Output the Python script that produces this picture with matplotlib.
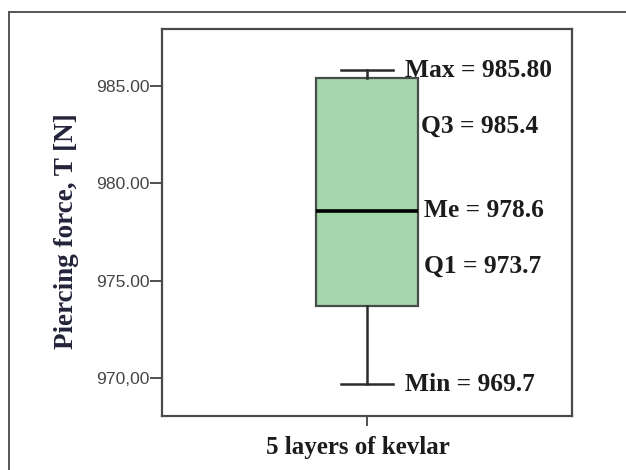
import matplotlib
matplotlib.use("Agg")
import matplotlib.pyplot as plt
from matplotlib.lines import Line2D

# Five-number summary for the kevlar sample (N)
group = "5 layers of kevlar"
stat_names = ["Max", "Q3", "Me", "Q1", "Min"]
stat_values = [985.80, 985.4, 978.6, 973.7, 969.7]
stat_text = ["985.80", "985.4", "978.6", "973.7", "969.7"]

yticks = [970, 975, 980, 985]
ytick_labels = ["970,00", "975.00", "980.00", "985.00"]

# where each annotation sits (data y, x offset in points from its mark)
label_y = [985.8, 982.95, 978.6, 975.75, 969.7]
label_dx = [9, 2, 4, 4, 9]

serif = ["Liberation Serif", "DejaVu Serif"]
sans = ["Liberation Sans", "DejaVu Sans"]

vals = dict(zip(stat_names, stat_values))
stats = [{
    "label": group,
    "whishi": vals["Max"],
    "q3": vals["Q3"],
    "med": vals["Me"],
    "q1": vals["Q1"],
    "whislo": vals["Min"],
    "fliers": [],
}]

fig = plt.figure(figsize=(6.26, 4.70), dpi=100)
ax = fig.add_axes([0.2593, 0.1155, 0.6540, 0.8222])

box_w = 0.5
cap_w = 0.25
ax.bxp(stats, positions=[0], widths=box_w, capwidths=cap_w,
       patch_artist=True, showfliers=False,
       boxprops=dict(facecolor="#a5d6ab", edgecolor="#474d48", linewidth=1.6),
       medianprops=dict(color="black", linewidth=2.6),
       whiskerprops=dict(color="#2b2b2b", linewidth=1.8),
       capprops=dict(color="#2b2b2b", linewidth=1.8))

ax.set_xlim(-1, 1)
ax.set_ylim(968.08, 987.9)

ax.set_yticks(yticks)
ax.set_yticklabels(ytick_labels, family=sans, fontsize=12.6, color="#454545")
ax.tick_params(axis="y", length=9, width=1.2, pad=0, color="#333333")
ax.set_xticks([0])
ax.set_xticklabels([""])
ax.tick_params(axis="x", length=7, width=1.2, color="#333333")

for sp in ax.spines.values():
    sp.set_color("#4a4a4a")
    sp.set_linewidth(1.6)

ax.set_ylabel("Piercing force, T [N]", family=serif, fontweight="bold",
              fontsize=19.5, color="#23233a")
ax.yaxis.set_label_coords(-0.203, 0.478)
ax.set_xlabel(group, family=serif, fontweight="bold", fontsize=18,
              color="#1c1c1c")
ax.xaxis.set_label_coords(0.478, -0.052)

# value annotations to the right of caps and box edges
anchor_x = [cap_w / 2, box_w / 2, box_w / 2, box_w / 2, cap_w / 2]
for name, txt, y, x0, dx in zip(stat_names, stat_text, label_y, anchor_x, label_dx):
    ax.annotate(f"{name} = {txt}", xy=(x0, y), xytext=(dx, 0),
                textcoords="offset points", ha="left", va="center",
                family=serif, fontweight="bold", fontsize=18.4, color="#1c1c1c")

# outer frame, only the left and top edges are visible
fig.add_artist(Line2D([0.0139, 0.0139], [0.0, 0.9745], color="#555555", lw=1.4))
fig.add_artist(Line2D([0.0139, 1.0], [0.9745, 0.9745], color="#555555", lw=1.4))

fig.savefig("out.png", dpi=100)
